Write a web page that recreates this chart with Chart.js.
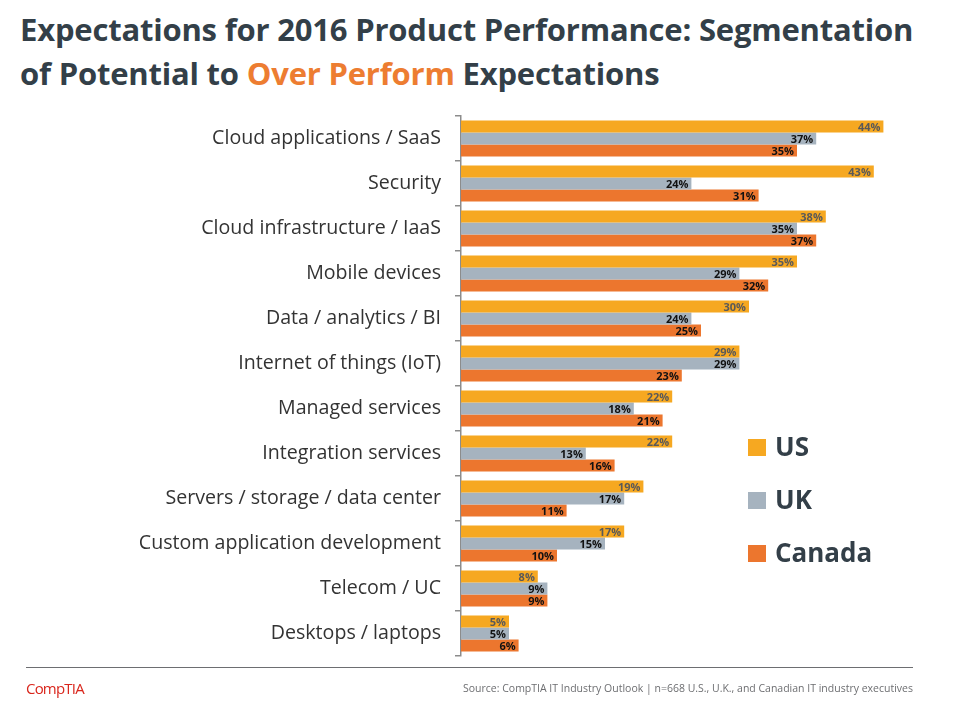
<!DOCTYPE html>
<html><head><meta charset="utf-8">
<script src="https://cdn.jsdelivr.net/npm/chart.js@4/dist/chart.umd.min.js"></script>
<style>
html,body{margin:0;padding:0;background:#fff;}
#wrap{position:relative;width:960px;height:720px;overflow:hidden;}
#title{position:absolute;left:20px;top:7px;font-family:"Open Sans",sans-serif;font-weight:bold;font-size:31px;line-height:44px;color:#333f48;white-space:nowrap;letter-spacing:-0.2px;}
#title .hl{color:#ed7d31;}
canvas{position:absolute;left:0;top:0;}
#rule{position:absolute;left:26px;top:667px;width:887px;height:0;border-top:1px solid #6d6e71;}
#logo{position:absolute;left:26px;top:678px;font-family:"Open Sans",sans-serif;font-size:15px;color:#d9261c;letter-spacing:-0.8px;}
#src{position:absolute;right:47px;top:681px;font-family:"Open Sans",sans-serif;font-size:10.5px;color:#6d6e71;}
</style></head>
<body><div id="wrap">
<div id="title">Expectations for 2016 Product Performance: Segmentation<br>of Potential to <span class="hl">Over Perform</span> Expectations</div>
<canvas id="c" width="960" height="720"></canvas>
<div id="rule"></div>
<div id="logo">CompTIA</div>
<div id="src">Source: CompTIA IT Industry Outlook | n=668 U.S., U.K., and Canadian IT industry executives</div>
</div>
<script>
const categories = ["Cloud applications / SaaS","Security","Cloud infrastructure / IaaS","Mobile devices","Data / analytics / BI","Internet of things (IoT)","Managed services","Integration services","Servers / storage / data center","Custom application development","Telecom / UC","Desktops / laptops"];
const usValues = [44,43,38,35,30,29,22,22,19,17,8,5];
const ukValues = [37,24,35,29,24,29,18,13,17,15,9,5];
const canadaValues = [35,31,37,32,25,23,21,16,11,10,9,6];
const seriesNames = ["US","UK","Canada"];
const seriesColors = ["#f6a821","#a6b3bf","#ec762e"];
const labelColors = ["#595959","#111111","#111111"];

const barLabels = {
  id:'barLabels',
  afterDatasetsDraw(chart){
    const ctx = chart.ctx;
    ctx.save();
    ctx.font = 'bold 11px "Open Sans", sans-serif';
    ctx.textAlign = 'right';
    ctx.textBaseline = 'middle';
    chart.data.datasets.forEach((ds,i)=>{
      const meta = chart.getDatasetMeta(i);
      meta.data.forEach((bar,j)=>{
        ctx.fillStyle = labelColors[i];
        ctx.fillText(ds.data[j]+'%', bar.x-3, bar.y+1);
      });
    });
    ctx.restore();
  }
};
const sideLegend = {
  id:'sideLegend',
  afterDraw(chart){
    const ctx = chart.ctx;
    ctx.save();
    ctx.font = 'bold 26px "Open Sans", sans-serif';
    ctx.textBaseline = 'middle';
    ctx.textAlign = 'left';
    chart.data.datasets.forEach((ds,i)=>{
      const y = 448 + i*53;
      ctx.fillStyle = ds.backgroundColor;
      ctx.fillRect(748, y-9, 18, 17);
      ctx.fillStyle = '#333f48';
      ctx.fillText(ds.label, 775, y+1);
    });
    ctx.restore();
  }
};

new Chart(document.getElementById('c'),{
  type:'bar',
  data:{
    labels:categories,
    datasets:[
      {label:seriesNames[0],data:usValues,backgroundColor:seriesColors[0]},
      {label:seriesNames[1],data:ukValues,backgroundColor:seriesColors[1]},
      {label:seriesNames[2],data:canadaValues,backgroundColor:seriesColors[2]}
    ]
  },
  options:{
    indexAxis:'y',
    responsive:false,
    animation:false,
    layout:{padding:{left:0,right:67,top:116,bottom:64}},
    plugins:{legend:{display:false},tooltip:{enabled:false}},
    datasets:{bar:{categoryPercentage:0.8,barPercentage:1.0}},
    scales:{
      x:{display:false,min:0,max:45},
      y:{
        afterFit(s){s.width=461;},
        border:{display:true,color:'#8c8c8c',width:1.5},
        grid:{display:true,drawOnChartArea:false,drawTicks:true,tickLength:6,color:'#8c8c8c',lineWidth:1.5,offset:true},
        ticks:{color:'#333333',padding:14,font:{family:'"Open Sans", sans-serif',size:19.6}}
      }
    }
  },
  plugins:[barLabels,sideLegend]
});
</script>
</body></html>
